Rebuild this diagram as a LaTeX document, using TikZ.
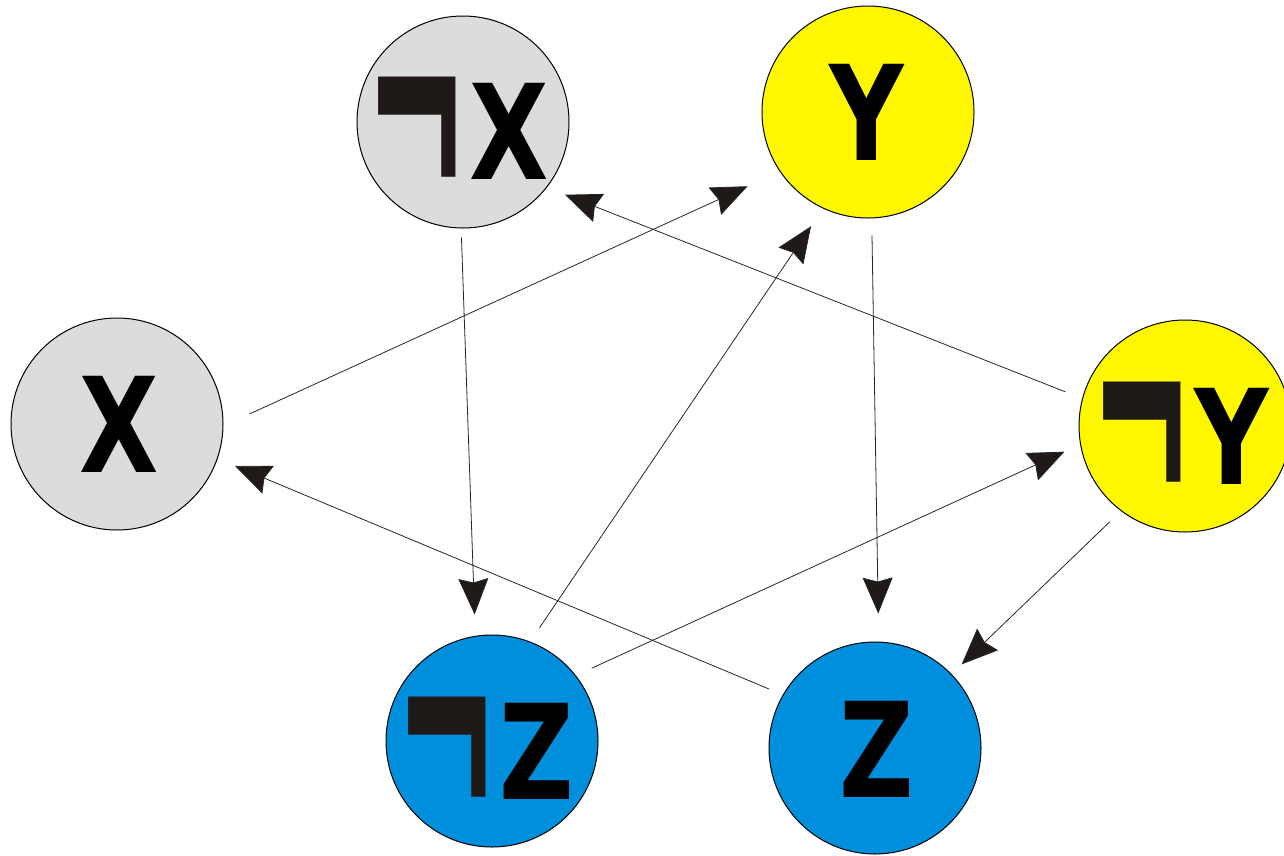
\documentclass[tikz,border=0pt]{standalone}
\usepackage{fontspec}
\setmainfont{DejaVu Sans}
\usetikzlibrary{arrows.meta}
\definecolor{litgray}{RGB}{220,220,220}
\definecolor{sun}{RGB}{255,247,0}
\definecolor{sky}{RGB}{0,143,220}
\definecolor{ink}{RGB}{31,26,23}
\newcommand{\bigsym}[1]{\fontsize{132}{132}\selectfont\bfseries\scalebox{0.78}[1]{#1}}
\newcommand{\negsym}{{\color{ink}\raisebox{-0.33em}{\scalebox{1.2}[2.5]{¬}}}}
\tikzset{
  var/.style={circle, draw=black, line width=1pt, minimum size=212pt, inner sep=0pt},
  grayvar/.style={var, fill=litgray},
  yellowvar/.style={var, fill=sun},
  bluevar/.style={var, fill=sky},
  lbl/.style={inner sep=0pt},
  link/.style={line width=0.8pt, draw=black!85,
    -{Stealth[length=36pt, width=30pt, inset=4pt, fill=ink]}}
}
\begin{document}
\begin{tikzpicture}[x=1pt, y=-1pt]
  \useasboundingbox (0,0) rectangle (1284,855);
  % variable nodes
  \node[grayvar]   (NX) at (463,122)  {};
  \node[yellowvar] (Y)  at (868,112)  {};
  \node[grayvar]   (X)  at (117,424)  {};
  \node[yellowvar] (NY) at (1185,426) {};
  \node[bluevar]   (NZ) at (492,741)  {};
  \node[bluevar]   (Z)  at (875,748)  {};
  % labels
  \node[lbl] (tNX) at (457,150) {\bigsym{\negsym X}};
  \node[lbl] (tY)  at (867,112) {\bigsym{Y}};
  \node[lbl] (tX)  at (119,424) {\bigsym{X}};
  \node[lbl] (tNY) at (1180,455) {\bigsym{\negsym Y}};
  \node[lbl] (tNZ) at (485,770) {\bigsym{\negsym Z}};
  \node[lbl] (tZ)  at (877,749) {\bigsym{Z}};
  % connectors
  \draw[link, shorten <=28.6pt, shorten >=35.3pt] (X.-1)      -- (Y.214);
  \draw[link, shorten <=17.9pt, shorten >=19.5pt] (NY.165)    -- (NX.-38);
  \draw[link, shorten <=9pt,    shorten >=21.3pt] (NX.-91)    -- (NZ.99);
  \draw[link, shorten <=16.8pt, shorten >=21.3pt] (NZ.69)     -- (Y.245.5);
  \draw[link, shorten <=17pt,   shorten >=28pt]   (Y.-88.5)   -- (Z.88.7);
  \draw[link, shorten <=17.4pt, shorten >=17.2pt] (NZ.38)     -- (NY.190);
  \draw[link, shorten <=14.8pt, shorten >=18.6pt] (Z.150.7)   -- (X.-19.6);
  \draw[link, shorten <=15.4pt, shorten >=13.9pt] (NY.233.6)  -- (Z.44);
\end{tikzpicture}
\end{document}
